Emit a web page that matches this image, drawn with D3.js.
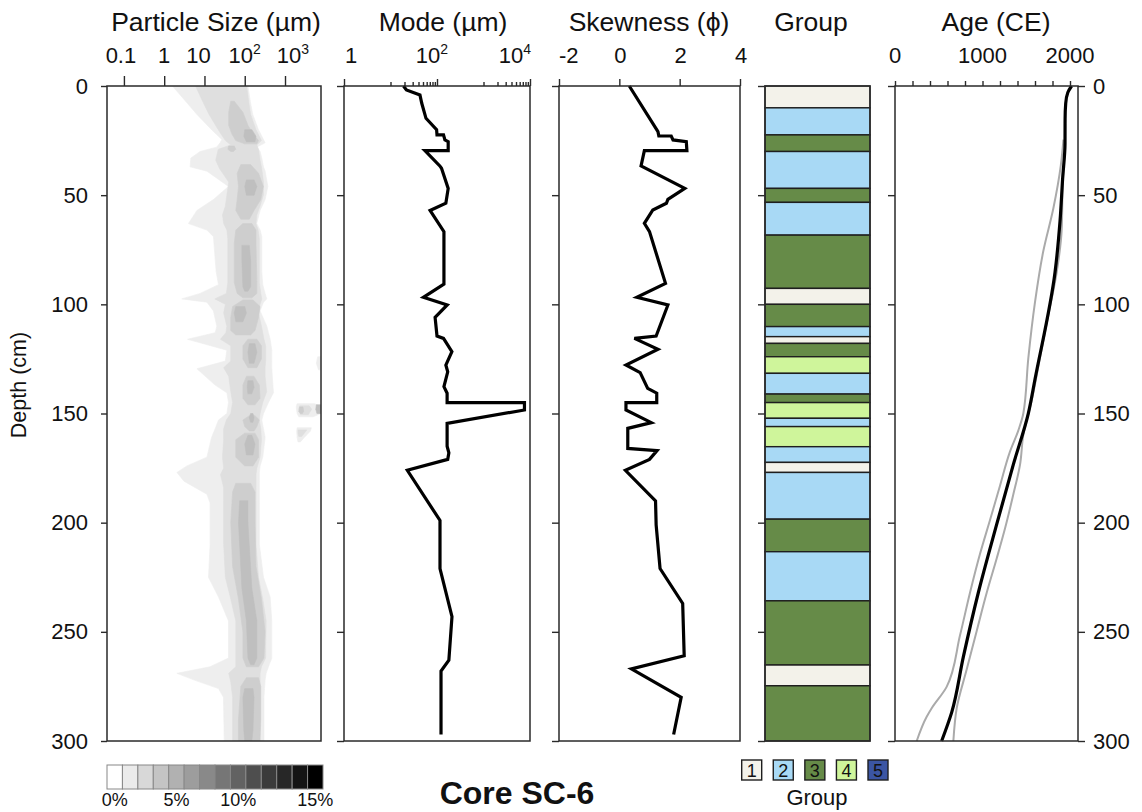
<!DOCTYPE html>
<html>
<head>
<meta charset="utf-8">
<script src="https://cdn.jsdelivr.net/npm/d3@7"></script>
<style>
  body { margin: 0; background: #fff; }
  text { font-family: "Liberation Sans", Arial, sans-serif; fill: #111; }
</style>
</head>
<body>
<svg id="chart" width="1142" height="812"></svg>
<script>
// ---------------- data ----------------
const depthTicks = [0, 50, 100, 150, 200, 250, 300];

// Grain-size frequency contours, one list of polygons per frequency class.
// Each polygon row: [depth (cm), lower bound (µm), upper bound (µm)]
const psClass1 = [
  [[0,1.6,120],[8,3.8,140],[13,6.5,158],[20,15,219],[24.5,27,292],[26,24.5,321],[28,20,199],[30,7.8,241],
   [33,4.6,265],[37,4.4,292],[39,11.5,321],[46,39.5,375],[52,16.7,321],[57,6.5,241],[63,4.0,199],[66,11.5,241],
   [69,16.7,265],[85,19.5,265],[91,22.3,280],[95,7.8,321],[97.5,2.74,353],[99,11.5,292],[103,16.7,241],
   [110,20.3,353],[113,18.4,388],[116,3.8,427],[121,36,470],[126,33,470],[129.5,6.5,470],[137,18.4,500],
   [140.5,36,517],[145,39.5,388],[150,36,292],[153,22.3,265],[157,18.4,292],[161,15,321],[170,11.5,280],
   [174,3.66,241],[177,2.07,231],[181,3.1,231],[187,11.5,231],[191,13.8,231],[210,13.8,231],[225,12.6,292],
   [234,22.3,427],[245,39.5,470],[262,39.5,470],[266,13.8,388],[269,2.07,340],[272,5.4,321],[276,22.3,310],
   [280,29.6,300],[300,31,300]],
  [[145.5,2000,5500],[147,1900,7830],[150,2000,7830],[151.5,2200,5000]],
  [[156.5,2000,4500],[158,1950,4300],[161,2000,3000],[163,2100,2400]],
  [[124,6500,7830],[127,6000,7830],[130,6800,7830]]
];
const psClass2 = [
  [[0,6,112],[7,9,125],[13,13,140],[20,22,190],[25,33,260],[27,45,200],[29,22,220],[34,19,240],[38,24,265],
   [44,40,292],[50,36,290],[55,33,240],[59,28,200],[63,30,190],[66,36,215],[70,38,230],[90,38,230],[95,35,250],
   [97.5,18,265],[100,33,240],[104,30,220],[110,36,260],[113,34,280],[116,25,300],[119,45,330],[126,45,330],
   [129,30,320],[133,40,320],[140,45,350],[145,50,280],[150,45,240],[153,35,230],[157,30,250],[162,30,260],
   [170,28,240],[175,30,200],[178,25,190],[184,30,190],[190,30,190],[210,30,190],[225,33,220],[235,45,280],
   [245,60,340],[262,60,330],[266,60,260],[269,40,240],[273,45,240],[280,50,240],[300,50,230]],
  [[146.5,2300,4000],[148,2200,4600],[150.5,2400,3800]],
  [[157.5,2100,3500],[159,2100,3000],[160.5,2200,2600]]
];
const psClass3 = [
  [[7,45,55],[12,40,90],[18,40,120],[22,48,160],[25,60,220],[26.5,100,200]],
  [[27.5,40,55],[29,38,60],[30,45,52]],
  [[36,80,140],[40,65,220],[46,70,290],[52,65,250],[57,60,170],[61,80,130]],
  [[63,90,150],[66,60,190],[72,55,190],[90,55,200],[95,65,200],[97,90,150]],
  [[98,90,160],[101,50,240],[106,45,220],[112,45,180],[114,60,140]],
  [[116,120,200],[119,90,260],[125,90,260],[129,120,200]],
  [[133,110,170],[137,90,230],[143,90,240],[146,120,180]],
  [[151,130,180],[153,90,230],[156,100,200],[158,130,170]],
  [[159,100,180],[162,60,220],[170,60,220],[174,100,160]],
  [[182,60,140],[186,50,180],[200,45,180],[220,50,190],[235,70,260],[250,90,320],[262,90,300],[266,110,220]],
  [[271,110,220],[275,80,250],[290,70,250],[300,70,240]],
  [[147,2300,2800],[149,2200,2900],[150,2400,2700]]
];
const psClass4 = [
  [[20,100,150],[23,95,190],[25.5,110,180]],
  [[43,110,170],[46,100,200],[50,110,170]],
  [[73,85,130],[80,85,140],[92,90,140],[94,100,120]],
  [[101,60,100],[104,55,110],[108,60,90]],
  [[118,130,180],[122,120,200],[127,130,170]],
  [[135,120,160],[138,115,170],[141,120,150]],
  [[150,140,160],[152,130,170],[154,140,160]],
  [[160,120,150],[164,100,180],[169,110,160]],
  [[190,75,120],[200,70,120],[230,85,150],[245,110,200],[262,120,200],[265,140,170]],
  [[276,100,160],[280,90,170],[295,95,160],[300,100,150]],
  [[146,6000,7830],[148,5800,7830],[150,6200,7830]]
];

// Mode grain size (µm) down core
const modeDepth = [0,1.8,4.1,7.9,14.8,20,22.4,22.4,24.7,25.5,29.6,29.6,36.6,37.7,46.9,53.7,57,66.7,90.7,96.8,
  100.3,106,114.5,115.6,121.7,127.8,130.9,137.7,140.7,145,145,148.4,154.5,165,168,171,176,199,221,243,263,268,297];
const modeValue = [19,22,43,47,58,98,100,138,148,174,174,55,115,125,174,155,71,141,141,51,
  166,91,100,138,209,155,170,141,165,165,7600,7600,165,165,180,170,23,116,116,210,180,122,122];

// Skewness (phi) down core
const skewDepth = [0,20.9,22.9,22.9,24.7,25.5,29.6,29.6,36.6,46.9,51.9,53.7,56.8,62.9,66.7,90.4,96.8,100.3,
  114.5,115.6,120.6,127.8,131.3,138.5,140.7,145,145,148.4,154.2,156.8,166,167,171,176,190,201,221,237,261,267,280,297];
const skewValue = [0.33,1.28,1.31,1.72,1.78,2.22,2.24,0.83,0.72,2.17,1.61,1.56,1.11,0.83,1.0,1.53,0.58,1.61,
  1.22,0.5,1.28,0.22,0.69,0.94,1.24,1.24,0.22,0.22,1.06,0.28,0.28,1.25,1.0,0.2,1.2,1.22,1.35,2.1,2.15,0.4,2.05,1.8];

// Sediment groups: unit top / bottom depth (cm) and group number
const groupTop = [0,10,22.4,30,46.9,53.3,68.3,92.7,100,110.2,114.8,117.9,124,131.6,141.1,145,152.2,156,165.2,172.4,177,198.4,213.3,235.8,265.2,274.7];
const groupBottom = [10,22.4,30,46.9,53.3,68.3,92.7,100,110.2,114.8,117.9,124,131.6,141.1,145,152.2,156,165.2,172.4,177,198.4,213.3,235.8,265.2,274.7,300];
const groupId = [1,2,3,2,3,2,3,1,3,2,1,3,4,2,3,4,2,4,2,1,2,3,2,3,1,3];
const groupNames = [1,2,3,4,5];
const groupColors = ["#f3f2ea","#a8d9f5","#668b48","#cff59b","#3b55a3"];

// Age-depth model: [depth (cm), year CE]
const ageMedian = [[0,2018],[3,1975],[8,1951],[15,1944],[26.6,1943],[42.3,1916],[61.9,1886],[85.3,1829],
  [134.3,1600],[149.9,1524],[173.4,1352],[200.8,1162],[232.1,952],[261.5,781],[286.9,648],[300,533]];
const ageOlder = [[24.6,1925],[36.4,1895],[56,1810],[75.6,1695],[99,1600],[124.5,1524],[149.9,1467],[157.7,1410],
  [167.5,1314],[183.1,1200],[198.8,1086],[214.4,971],[232.1,857],[251.6,743],[275.2,590],[285,419],[288.9,362],[300,248]];
const ageYounger = [[26.6,1943],[46.2,1916],[65.8,1905],[85.3,1848],[104.9,1752],[124.5,1657],[144.1,1562],
  [159.7,1467],[173.4,1429],[187.1,1352],[202.7,1257],[216.4,1162],[232.1,1048],[249.7,933],[267.3,819],[285,705],[300,667]];

// Axis ticks and labels
const psTicks = [0.1, 1, 10, 100, 1000];
const psTickLabels = [["0.1",""],["1",""],["10",""],["10","2"],["10","3"]];
const modeMajorTicks = [1, 100, 10000];
const modeMinorTicks = [10,20,30,40,50,60,70,80,90,1000,2000,3000,4000,5000,6000,7000,8000,9000];
const modeTickLabels = [["1",""],["10","2"],["10","4"]];
const skewTicks = [-2, 0, 2, 4];
const ageTicks = [0,200,400,600,800,1000,1200,1400,1600,1800,2000];
const ageLabelTicks = [0, 1000, 2000];
const freqLegendLabels = ["0%","5%","10%","15%"];
const freqLegendLabelIdx = [0, 4, 8, 13];

// ---------------- layout ----------------
const svg = d3.select("#chart");
const plotTop = 86, plotBottom = 741;
const y = d3.scaleLinear().domain([0, 300]).range([plotTop, plotBottom]);

const panels = {
  ps:   {x0: 107, x1: 321},
  mode: {x0: 344, x1: 530},
  skew: {x0: 559, x1: 740},
  grp:  {x0: 765, x1: 870},
  age:  {x0: 895, x1: 1078}
};
const xPs = d3.scaleLog().domain([0.038, 7830]).range([panels.ps.x0, panels.ps.x1]);
const xMode = d3.scaleLog().domain([1, 10000]).range([panels.mode.x0, panels.mode.x1]);
const xSkew = d3.scaleLinear().domain([-2, 4]).range([panels.skew.x0, panels.skew.x1]);
const xAge = d3.scaleLinear().domain([0, 2100]).range([panels.age.x0, panels.age.x1 + 0.75]);

const greys = d3.range(14).map(i => d3.interpolateRgb("#ffffff", "#000000")(i / 13));
const frameColor = "#2a2a2a";
const tickFont = 22;

// ---------------- particle size contours ----------------
svg.append("defs").append("clipPath").attr("id", "psClip")
  .append("rect").attr("x", panels.ps.x0).attr("y", plotTop)
  .attr("width", panels.ps.x1 - panels.ps.x0).attr("height", plotBottom - plotTop);

const band = d3.area()
  .y(d => y(d[0]))
  .x0(d => xPs(d[1]))
  .x1(d => xPs(d[2]))
  .curve(d3.curveLinear);

const psG = svg.append("g").attr("clip-path", "url(#psClip)").attr("opacity", 0.82);
[psClass1, psClass2, psClass3, psClass4].forEach((polys, i) => {
  psG.append("g").selectAll("path").data(polys).join("path")
    .attr("d", band)
    .attr("fill", greys[i + 1])
    .attr("stroke", greys[i + 1])
    .attr("stroke-width", 0.6);
});

// ---------------- mode & skewness curves ----------------
const modeLine = d3.line().x(d => xMode(d[1])).y(d => y(d[0]));
svg.append("path")
  .datum(modeDepth.map((d, i) => [d, modeValue[i]]))
  .attr("d", modeLine)
  .attr("fill", "none").attr("stroke", "#000").attr("stroke-width", 3.2)
  .attr("stroke-linejoin", "miter").attr("stroke-miterlimit", 3);

const skewLine = d3.line().x(d => xSkew(d[1])).y(d => y(d[0]));
svg.append("path")
  .datum(skewDepth.map((d, i) => [d, skewValue[i]]))
  .attr("d", skewLine)
  .attr("fill", "none").attr("stroke", "#000").attr("stroke-width", 3.2)
  .attr("stroke-linejoin", "miter").attr("stroke-miterlimit", 3);

// ---------------- group column ----------------
svg.append("g").selectAll("rect").data(groupTop).join("rect")
  .attr("x", panels.grp.x0).attr("width", panels.grp.x1 - panels.grp.x0)
  .attr("y", d => y(d))
  .attr("height", (d, i) => y(groupBottom[i]) - y(d))
  .attr("fill", (d, i) => groupColors[groupNames.indexOf(groupId[i])])
  .attr("stroke", "#1e1e1e").attr("stroke-width", 1.4);

// ---------------- age model ----------------
const ageLine = d3.line().x(d => xAge(d[1])).y(d => y(d[0])).curve(d3.curveMonotoneY);
[[ageOlder, "#aaaaaa", 2], [ageYounger, "#aaaaaa", 2], [ageMedian, "#000", 3.2]].forEach(([data, col, w]) => {
  svg.append("path").datum(data).attr("d", ageLine)
    .attr("fill", "none").attr("stroke", col).attr("stroke-width", w);
});

// ---------------- frames & axes ----------------
Object.values(panels).forEach(p => {
  svg.append("rect").attr("x", p.x0).attr("y", plotTop)
    .attr("width", p.x1 - p.x0).attr("height", plotBottom - plotTop)
    .attr("fill", "none").attr("stroke", frameColor).attr("stroke-width", 1.5);
});

function styleAxis(g) {
  g.select(".domain").remove();
  g.selectAll(".tick line").attr("stroke", frameColor).attr("stroke-width", 1.4);
  g.selectAll(".tick text").attr("font-size", tickFont).attr("fill", "#111")
    .attr("font-family", '"Liberation Sans", Arial, sans-serif');
}

// depth axes
svg.append("g").attr("transform", `translate(${panels.ps.x0},0)`)
  .call(d3.axisLeft(y).tickValues(depthTicks).tickSize(6).tickPadding(13))
  .call(styleAxis);
["mode", "skew", "grp", "age"].forEach(k => {
  svg.append("g").attr("transform", `translate(${panels[k].x0},0)`)
    .call(d3.axisLeft(y).tickValues(depthTicks).tickSize(7).tickFormat(""))
    .call(styleAxis);
});
svg.append("g").attr("transform", `translate(${panels.age.x1},0)`)
  .call(d3.axisRight(y).tickValues(depthTicks).tickSize(7).tickPadding(8))
  .call(styleAxis);

// top axes
svg.append("g").attr("transform", `translate(0,${plotTop})`)
  .call(d3.axisTop(xPs).tickValues(psTicks).tickSize(10).tickFormat(""))
  .call(styleAxis);
svg.append("g").attr("transform", `translate(0,${plotTop})`)
  .call(d3.axisTop(xMode).tickValues(modeMajorTicks).tickSize(7).tickFormat(""))
  .call(styleAxis);
svg.append("g").attr("transform", `translate(0,${plotTop})`)
  .call(d3.axisTop(xMode).tickValues(modeMinorTicks).tickSize(4).tickFormat(""))
  .call(styleAxis);
svg.append("g").attr("transform", `translate(0,${plotTop})`)
  .call(d3.axisTop(xSkew).tickValues(skewTicks).tickSize(7).tickFormat(""))
  .call(styleAxis);
svg.append("g").attr("transform", `translate(0,${plotTop})`)
  .call(d3.axisTop(xAge).tickValues(ageTicks).tickSize(5).tickFormat(""))
  .call(styleAxis);

function powerText(g, x, lab, anchor) {
  const t = g.append("text").attr("x", x).attr("y", 63).attr("font-size", tickFont)
    .attr("text-anchor", anchor || "middle");
  t.append("tspan").text(lab[0]);
  if (lab[1]) t.append("tspan").attr("dy", -9).attr("font-size", 14).text(lab[1]);
  return t;
}
const labG = svg.append("g");
const psLabelShift = [-3, 0, -6, 0, 8];
psTicks.forEach((v, i) => powerText(labG, xPs(v) + psLabelShift[i], psTickLabels[i]));
powerText(labG, xMode(1) + 1, modeTickLabels[0], "start");
powerText(labG, xMode(100) - 5, modeTickLabels[1]);
powerText(labG, xMode(10000) + 1, modeTickLabels[2], "end");
skewTicks.forEach((v, i) => {
  labG.append("text").attr("x", i === 0 ? xSkew(v) : xSkew(v) + 1).attr("y", 63)
    .attr("font-size", tickFont).attr("text-anchor", i === 0 ? "start" : "middle").text(v);
});
ageLabelTicks.forEach(v => {
  labG.append("text").attr("x", xAge(v)).attr("y", 63).attr("font-size", tickFont)
    .attr("text-anchor", "middle").text(v);
});

// panel titles
const titles = [
  ["Particle Size (µm)", 216], ["Mode (µm)", 443], ["Skewness (ϕ)", 649], ["Group", 811], ["Age (CE)", 996]
];
titles.forEach(([t, x]) => {
  svg.append("text").attr("x", x).attr("y", 31).attr("font-size", 26.5)
    .attr("text-anchor", "middle").text(t);
});

// depth title
svg.append("text").attr("transform", "translate(26,385) rotate(-90)")
  .attr("font-size", 21.5).attr("text-anchor", "middle").text("Depth (cm)");

// ---------------- legends ----------------
const legX = d3.scaleBand().domain(d3.range(14)).range([107, 323]);
const legG = svg.append("g");
legG.selectAll("rect").data(greys).join("rect")
  .attr("x", (d, i) => legX(i)).attr("y", 765)
  .attr("width", legX.bandwidth()).attr("height", 24)
  .attr("fill", d => d).attr("stroke", "#888").attr("stroke-width", 1);
freqLegendLabels.forEach((t, i) => {
  legG.append("text").attr("x", legX(freqLegendLabelIdx[i]) + legX.bandwidth() / 2)
    .attr("y", 806).attr("font-size", 18).attr("text-anchor", "middle").text(t);
});

const grpLegX = d3.scalePoint().domain(groupNames).range([751.7, 878]);
const gl = svg.append("g");
groupNames.forEach((n, i) => {
  gl.append("rect").attr("x", grpLegX(n) - 10).attr("y", 760).attr("width", 20).attr("height", 20)
    .attr("fill", groupColors[i]).attr("stroke", "#1e1e1e").attr("stroke-width", 1.4);
  gl.append("text").attr("x", grpLegX(n)).attr("y", 777).attr("font-size", 18)
    .attr("text-anchor", "middle").text(n);
});
gl.append("text").attr("x", 817).attr("y", 805).attr("font-size", 22)
  .attr("text-anchor", "middle").text("Group");

svg.append("text").attr("x", 517).attr("y", 804).attr("font-size", 32)
  .attr("font-weight", "bold").attr("text-anchor", "middle").text("Core SC-6");
</script>
</body>
</html>
